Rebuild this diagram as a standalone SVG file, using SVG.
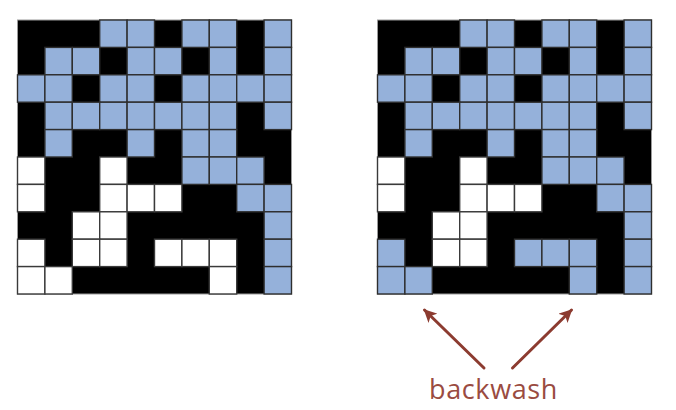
<svg xmlns="http://www.w3.org/2000/svg" width="676" height="410" viewBox="0 0 676 410">
<defs>
<style>
.bg{fill:#000;stroke:#9a9a9a;stroke-width:1}
.b{fill:#95b1da;stroke:#2e2e2e;stroke-width:1.4}
.w{fill:#fff;stroke:#3a3a3a;stroke-width:1.4}
.arr{stroke:#8c3b30;stroke-width:3;fill:none;stroke-linecap:round}
.lbl{font-family:"Open Sans","DejaVu Sans",sans-serif;font-size:27px;fill:#9a4b41;letter-spacing:0.6px}
</style>
<marker id="ah" viewBox="0 0 12 12" refX="11" refY="6" markerWidth="13" markerHeight="13" markerUnits="userSpaceOnUse" orient="auto">
<path d="M0,0 L12,6 L0,12 L3,6 Z" fill="#8c3b30"/>
</marker>
</defs>
<rect width="676" height="410" fill="#fff"/>
<g id="grid-left" transform="translate(17.5,20)">
<rect class="bg" x="0" y="0" width="274" height="274"/>
<!-- row 0 -->
<rect class="b" x="82.2" y="0" width="27.4" height="27.4"/>
<rect class="b" x="109.6" y="0" width="27.4" height="27.4"/>
<rect class="b" x="164.4" y="0" width="27.4" height="27.4"/>
<rect class="b" x="191.8" y="0" width="27.4" height="27.4"/>
<rect class="b" x="246.6" y="0" width="27.4" height="27.4"/>
<!-- row 1 -->
<rect class="b" x="27.4" y="27.4" width="27.4" height="27.4"/>
<rect class="b" x="54.8" y="27.4" width="27.4" height="27.4"/>
<rect class="b" x="109.6" y="27.4" width="27.4" height="27.4"/>
<rect class="b" x="137" y="27.4" width="27.4" height="27.4"/>
<rect class="b" x="191.8" y="27.4" width="27.4" height="27.4"/>
<rect class="b" x="246.6" y="27.4" width="27.4" height="27.4"/>
<!-- row 2 -->
<rect class="b" x="0" y="54.8" width="27.4" height="27.4"/>
<rect class="b" x="27.4" y="54.8" width="27.4" height="27.4"/>
<rect class="b" x="82.2" y="54.8" width="27.4" height="27.4"/>
<rect class="b" x="109.6" y="54.8" width="27.4" height="27.4"/>
<rect class="b" x="164.4" y="54.8" width="27.4" height="27.4"/>
<rect class="b" x="191.8" y="54.8" width="27.4" height="27.4"/>
<rect class="b" x="219.2" y="54.8" width="27.4" height="27.4"/>
<rect class="b" x="246.6" y="54.8" width="27.4" height="27.4"/>
<!-- row 3 -->
<rect class="b" x="27.4" y="82.2" width="27.4" height="27.4"/>
<rect class="b" x="54.8" y="82.2" width="27.4" height="27.4"/>
<rect class="b" x="82.2" y="82.2" width="27.4" height="27.4"/>
<rect class="b" x="109.6" y="82.2" width="27.4" height="27.4"/>
<rect class="b" x="137" y="82.2" width="27.4" height="27.4"/>
<rect class="b" x="164.4" y="82.2" width="27.4" height="27.4"/>
<rect class="b" x="191.8" y="82.2" width="27.4" height="27.4"/>
<rect class="b" x="246.6" y="82.2" width="27.4" height="27.4"/>
<!-- row 4 -->
<rect class="b" x="27.4" y="109.6" width="27.4" height="27.4"/>
<rect class="b" x="109.6" y="109.6" width="27.4" height="27.4"/>
<rect class="b" x="164.4" y="109.6" width="27.4" height="27.4"/>
<rect class="b" x="191.8" y="109.6" width="27.4" height="27.4"/>
<!-- row 5 -->
<rect class="w" x="0" y="137" width="27.4" height="27.4"/>
<rect class="w" x="82.2" y="137" width="27.4" height="27.4"/>
<rect class="b" x="164.4" y="137" width="27.4" height="27.4"/>
<rect class="b" x="191.8" y="137" width="27.4" height="27.4"/>
<rect class="b" x="219.2" y="137" width="27.4" height="27.4"/>
<!-- row 6 -->
<rect class="w" x="0" y="164.4" width="27.4" height="27.4"/>
<rect class="w" x="82.2" y="164.4" width="27.4" height="27.4"/>
<rect class="w" x="109.6" y="164.4" width="27.4" height="27.4"/>
<rect class="w" x="137" y="164.4" width="27.4" height="27.4"/>
<rect class="b" x="219.2" y="164.4" width="27.4" height="27.4"/>
<rect class="b" x="246.6" y="164.4" width="27.4" height="27.4"/>
<!-- row 7 -->
<rect class="w" x="54.8" y="191.8" width="27.4" height="27.4"/>
<rect class="w" x="82.2" y="191.8" width="27.4" height="27.4"/>
<rect class="b" x="246.6" y="191.8" width="27.4" height="27.4"/>
<!-- row 8 -->
<rect class="w" x="0" y="219.2" width="27.4" height="27.4"/>
<rect class="w" x="54.8" y="219.2" width="27.4" height="27.4"/>
<rect class="w" x="82.2" y="219.2" width="27.4" height="27.4"/>
<rect class="w" x="137" y="219.2" width="27.4" height="27.4"/>
<rect class="w" x="164.4" y="219.2" width="27.4" height="27.4"/>
<rect class="w" x="191.8" y="219.2" width="27.4" height="27.4"/>
<rect class="b" x="246.6" y="219.2" width="27.4" height="27.4"/>
<!-- row 9 -->
<rect class="w" x="0" y="246.6" width="27.4" height="27.4"/>
<rect class="w" x="27.4" y="246.6" width="27.4" height="27.4"/>
<rect class="w" x="191.8" y="246.6" width="27.4" height="27.4"/>
<rect class="b" x="246.6" y="246.6" width="27.4" height="27.4"/>
</g>
<g id="grid-right" transform="translate(377.5,20)">
<rect class="bg" x="0" y="0" width="274" height="274"/>
<!-- row 0 -->
<rect class="b" x="82.2" y="0" width="27.4" height="27.4"/>
<rect class="b" x="109.6" y="0" width="27.4" height="27.4"/>
<rect class="b" x="164.4" y="0" width="27.4" height="27.4"/>
<rect class="b" x="191.8" y="0" width="27.4" height="27.4"/>
<rect class="b" x="246.6" y="0" width="27.4" height="27.4"/>
<!-- row 1 -->
<rect class="b" x="27.4" y="27.4" width="27.4" height="27.4"/>
<rect class="b" x="54.8" y="27.4" width="27.4" height="27.4"/>
<rect class="b" x="109.6" y="27.4" width="27.4" height="27.4"/>
<rect class="b" x="137" y="27.4" width="27.4" height="27.4"/>
<rect class="b" x="191.8" y="27.4" width="27.4" height="27.4"/>
<rect class="b" x="246.6" y="27.4" width="27.4" height="27.4"/>
<!-- row 2 -->
<rect class="b" x="0" y="54.8" width="27.4" height="27.4"/>
<rect class="b" x="27.4" y="54.8" width="27.4" height="27.4"/>
<rect class="b" x="82.2" y="54.8" width="27.4" height="27.4"/>
<rect class="b" x="109.6" y="54.8" width="27.4" height="27.4"/>
<rect class="b" x="164.4" y="54.8" width="27.4" height="27.4"/>
<rect class="b" x="191.8" y="54.8" width="27.4" height="27.4"/>
<rect class="b" x="219.2" y="54.8" width="27.4" height="27.4"/>
<rect class="b" x="246.6" y="54.8" width="27.4" height="27.4"/>
<!-- row 3 -->
<rect class="b" x="27.4" y="82.2" width="27.4" height="27.4"/>
<rect class="b" x="54.8" y="82.2" width="27.4" height="27.4"/>
<rect class="b" x="82.2" y="82.2" width="27.4" height="27.4"/>
<rect class="b" x="109.6" y="82.2" width="27.4" height="27.4"/>
<rect class="b" x="137" y="82.2" width="27.4" height="27.4"/>
<rect class="b" x="164.4" y="82.2" width="27.4" height="27.4"/>
<rect class="b" x="191.8" y="82.2" width="27.4" height="27.4"/>
<rect class="b" x="246.6" y="82.2" width="27.4" height="27.4"/>
<!-- row 4 -->
<rect class="b" x="27.4" y="109.6" width="27.4" height="27.4"/>
<rect class="b" x="109.6" y="109.6" width="27.4" height="27.4"/>
<rect class="b" x="164.4" y="109.6" width="27.4" height="27.4"/>
<rect class="b" x="191.8" y="109.6" width="27.4" height="27.4"/>
<!-- row 5 -->
<rect class="w" x="0" y="137" width="27.4" height="27.4"/>
<rect class="w" x="82.2" y="137" width="27.4" height="27.4"/>
<rect class="b" x="164.4" y="137" width="27.4" height="27.4"/>
<rect class="b" x="191.8" y="137" width="27.4" height="27.4"/>
<rect class="b" x="219.2" y="137" width="27.4" height="27.4"/>
<!-- row 6 -->
<rect class="w" x="0" y="164.4" width="27.4" height="27.4"/>
<rect class="w" x="82.2" y="164.4" width="27.4" height="27.4"/>
<rect class="w" x="109.6" y="164.4" width="27.4" height="27.4"/>
<rect class="w" x="137" y="164.4" width="27.4" height="27.4"/>
<rect class="b" x="219.2" y="164.4" width="27.4" height="27.4"/>
<rect class="b" x="246.6" y="164.4" width="27.4" height="27.4"/>
<!-- row 7 -->
<rect class="w" x="54.8" y="191.8" width="27.4" height="27.4"/>
<rect class="w" x="82.2" y="191.8" width="27.4" height="27.4"/>
<rect class="b" x="246.6" y="191.8" width="27.4" height="27.4"/>
<!-- row 8 -->
<rect class="b" x="0" y="219.2" width="27.4" height="27.4"/>
<rect class="w" x="54.8" y="219.2" width="27.4" height="27.4"/>
<rect class="w" x="82.2" y="219.2" width="27.4" height="27.4"/>
<rect class="b" x="137" y="219.2" width="27.4" height="27.4"/>
<rect class="b" x="164.4" y="219.2" width="27.4" height="27.4"/>
<rect class="b" x="191.8" y="219.2" width="27.4" height="27.4"/>
<rect class="b" x="246.6" y="219.2" width="27.4" height="27.4"/>
<!-- row 9 -->
<rect class="b" x="0" y="246.6" width="27.4" height="27.4"/>
<rect class="b" x="27.4" y="246.6" width="27.4" height="27.4"/>
<rect class="b" x="191.8" y="246.6" width="27.4" height="27.4"/>
<rect class="b" x="246.6" y="246.6" width="27.4" height="27.4"/>
</g>
<g id="label">
<text class="lbl" x="493.5" y="399" text-anchor="middle">backwash</text>
</g>
<g id="connectors">
<line class="arr" x1="484" y1="368" x2="424.5" y2="310" marker-end="url(#ah)"/>
<line class="arr" x1="512.5" y1="368" x2="571.5" y2="310" marker-end="url(#ah)"/>
</g>
</svg>
